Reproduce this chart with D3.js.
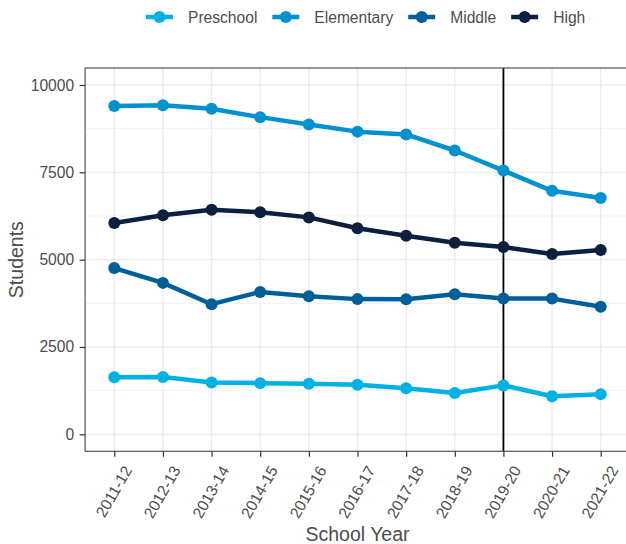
<!DOCTYPE html>
<html>
<head>
<meta charset="utf-8">
<script src="https://cdn.jsdelivr.net/npm/d3@7"></script>
<style>
  html, body { margin: 0; padding: 0; background: #fff; }
  svg { display: block; font-family: "Liberation Sans", Arial, sans-serif; }
</style>
</head>
<body>
<svg id="chart" width="626" height="544"></svg>
<script>
// ---- data ----
const years = ["2011-12","2012-13","2013-14","2014-15","2015-16","2016-17","2017-18","2018-19","2019-20","2020-21","2021-22"];
const seriesNames = ["Preschool","Elementary","Middle","High"];
const preschool  = [1630, 1640, 1480, 1465, 1445, 1420, 1320, 1180, 1400, 1090, 1150];
const elementary = [9400, 9420, 9320, 9080, 8870, 8665, 8585, 8125, 7550, 6970, 6765];
const middle     = [4760, 4335, 3725, 4075, 3955, 3870, 3865, 4010, 3890, 3885, 3650];
const high       = [6050, 6270, 6430, 6355, 6210, 5900, 5685, 5485, 5360, 5160, 5275];
const yTicks = [0, 2500, 5000, 7500, 10000];
const yMinorTicks = [1250, 3750, 6250, 8750];
const markerYear = "2019-20";
const colors = ["#00B2E3", "#0092D0", "#005E98", "#0C1F3F"];

const seriesValues = [preschool, elementary, middle, high];
const series = seriesNames.map((name, i) => ({
  name, color: colors[i],
  values: years.map((y, j) => ({ year: y, value: seriesValues[i][j] }))
}));

// ---- layout ----
const svg = d3.select("#chart");
const panelLeft = 85.1, panelRight = 629.9;
const yExpand = 487;
const x = d3.scalePoint().domain(years).range([panelLeft, panelRight]).padding(0.6);
const y = d3.scaleLinear().domain([0, 10000]).range([434.3, 85]);
const panelTop = y(10000 + yExpand), panelBottom = y(-yExpand);

const textCol = "#4d4d4d";
const gridCol = "#ebebeb";

// grid
const g = svg.append("g");
g.selectAll("line.minor").data(yMinorTicks).join("line")
  .attr("x1", panelLeft).attr("x2", panelRight)
  .attr("y1", d => y(d)).attr("y2", d => y(d))
  .attr("stroke", gridCol).attr("stroke-width", 0.7);
g.selectAll("line.majy").data(yTicks).join("line")
  .attr("x1", panelLeft).attr("x2", panelRight)
  .attr("y1", d => y(d)).attr("y2", d => y(d))
  .attr("stroke", gridCol).attr("stroke-width", 1.3);
g.selectAll("line.majx").data(years).join("line")
  .attr("y1", panelTop).attr("y2", panelBottom)
  .attr("x1", d => x(d)).attr("x2", d => x(d))
  .attr("stroke", gridCol).attr("stroke-width", 1.3);

// marker vertical line
svg.append("line")
  .attr("x1", x(markerYear)).attr("x2", x(markerYear))
  .attr("y1", panelTop).attr("y2", panelBottom)
  .attr("stroke", "#000").attr("stroke-width", 1.8);

// lines + points
const lineGen = d3.line().x(d => x(d.year)).y(d => y(d.value));
const sg = svg.append("g").selectAll("g").data(series).join("g");
sg.append("path")
  .attr("d", d => lineGen(d.values))
  .attr("fill", "none").attr("stroke", d => d.color)
  .attr("stroke-width", 4.5).attr("stroke-linejoin", "round");
sg.selectAll("circle").data(d => d.values.map(v => ({...v, color: d.color}))).join("circle")
  .attr("cx", d => x(d.year)).attr("cy", d => y(d.value))
  .attr("r", 6).attr("fill", d => d.color);

// panel border
svg.append("rect")
  .attr("x", panelLeft).attr("y", panelTop)
  .attr("width", panelRight - panelLeft).attr("height", panelBottom - panelTop)
  .attr("fill", "none").attr("stroke", "#555").attr("stroke-width", 1.2);

// y axis
const yAxis = svg.append("g").attr("transform", `translate(${panelLeft},0)`)
  .call(d3.axisLeft(y).tickValues(yTicks).tickFormat(d3.format("d")).tickSize(5.5).tickPadding(5.5));
yAxis.select(".domain").remove();
yAxis.selectAll(".tick line").attr("stroke", "#333").attr("stroke-width", 1.2);
yAxis.selectAll(".tick text").attr("fill", textCol).attr("font-size", "15.6px")
  .attr("font-family", "Liberation Sans, Arial, sans-serif");

// x axis
const xAxis = svg.append("g").attr("transform", `translate(0,${panelBottom})`)
  .call(d3.axisBottom(x).tickSize(5.5).tickFormat(d => d));
xAxis.select(".domain").remove();
xAxis.selectAll(".tick line").attr("stroke", "#333").attr("stroke-width", 1.2);
xAxis.selectAll(".tick text")
  .attr("fill", textCol).attr("font-size", "15.6px")
  .attr("font-family", "Liberation Sans, Arial, sans-serif")
  .attr("text-anchor", "end")
  .attr("x", 0).attr("y", 0).attr("dy", "0.72em")
  .attr("transform", "translate(8,13) rotate(-60)");

// axis titles
svg.append("text")
  .attr("x", (panelLeft + panelRight) / 2).attr("y", 541)
  .attr("text-anchor", "middle").attr("fill", textCol)
  .attr("font-size", "19.5px").text("School Year");
svg.append("text")
  .attr("transform", `translate(22.7,${(panelTop + panelBottom) / 2}) rotate(-90)`)
  .attr("text-anchor", "middle").attr("fill", textCol)
  .attr("font-size", "19.5px").text("Students");

// legend
const legend = svg.append("g");
let lx = 146;
const ly = 17;
series.forEach(s => {
  const item = legend.append("g");
  item.append("line").attr("x1", lx).attr("x2", lx + 27).attr("y1", ly).attr("y2", ly)
    .attr("stroke", s.color).attr("stroke-width", 4.5);
  item.append("circle").attr("cx", lx + 13.5).attr("cy", ly).attr("r", 6).attr("fill", s.color);
  const t = item.append("text").attr("x", lx + 42).attr("y", 23.2)
    .attr("fill", textCol).attr("font-size", "15.6px").text(s.name);
  lx += 42 + t.node().getComputedTextLength() + 15;
});
</script>
</body>
</html>
